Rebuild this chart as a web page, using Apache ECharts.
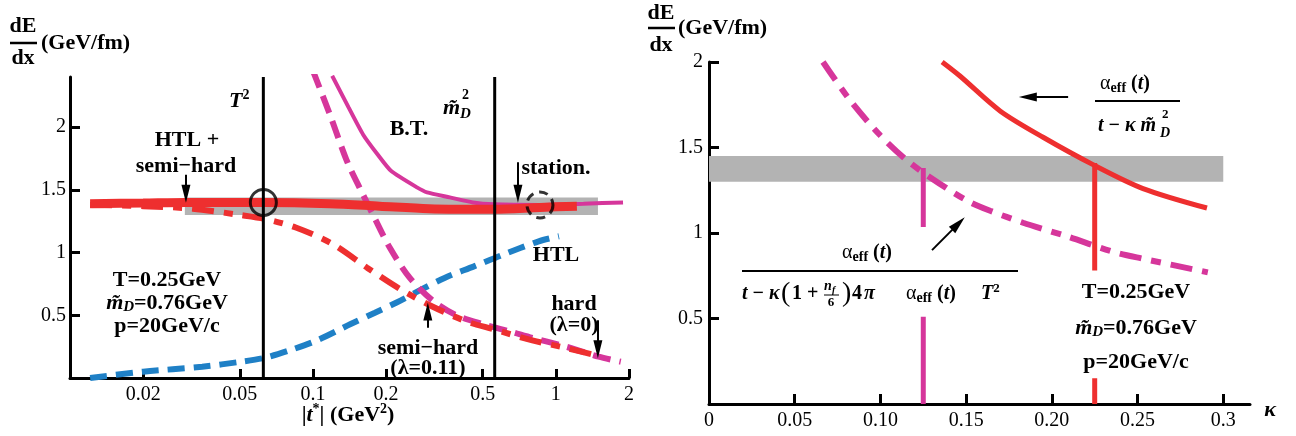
<!DOCTYPE html>
<html>
<head>
<meta charset="utf-8">
<script src="https://cdn.jsdelivr.net/npm/echarts@6.0.0/dist/echarts.min.js"></script>
<style>
  html, body { margin: 0; padding: 0; background: #fff; }
  #chart { width: 1296px; height: 436px; }
</style>
</head>
<body>
<div id="chart"></div>
<script>
  const RED = '#ee2f2f'
  const MAGENTA = '#d6369b'
  const BLUE = '#1f80c6'
  const GREY = '#b3b3b3'
  const SERIF = 'Liberation Serif'

  // ---- left panel: dE/dx against |t*| (log axis) ----
  const tTicks = [0.02, 0.05, 0.1, 0.2, 0.5, 1, 2]
  const dEdxTicks = [0.5, 1, 1.5, 2]
  const htlPlusSemiHard = [[0.0121, 1.39], [0.02, 1.395], [0.03, 1.40], [0.0629, 1.40], [0.1175, 1.39], [0.188, 1.37], [0.30, 1.35], [0.556, 1.345], [0.86, 1.36], [1.22, 1.37]]
  const semiHard = [[0.0121, 1.38], [0.02, 1.37], [0.032, 1.35], [0.05, 1.30], [0.063, 1.27], [0.085, 1.20], [0.12, 1.07], [0.167, 0.88], [0.228, 0.71], [0.31, 0.57], [0.43, 0.45], [0.55, 0.39], [0.8, 0.30], [1.1, 0.24], [1.5, 0.175]]
  const hard = [[0.1, 2.45], [0.1175, 2.10], [0.138, 1.73], [0.16, 1.47], [0.18, 1.27], [0.207, 1.04], [0.25, 0.80], [0.31, 0.62], [0.39, 0.50], [0.5, 0.43], [0.65, 0.37], [0.8, 0.32], [1.1, 0.25], [1.5, 0.17], [1.85, 0.13]]
  const braatenThoma = [[0.12, 2.41], [0.14, 2.16], [0.161, 1.94], [0.185, 1.78], [0.21, 1.65], [0.268, 1.52], [0.295, 1.48], [0.366, 1.44], [0.455, 1.40], [0.556, 1.385], [0.86, 1.38], [1.3, 1.39], [1.89, 1.40]]
  const htl = [[0.0121, 0.0], [0.02, 0.05], [0.035, 0.09], [0.0506, 0.13], [0.063, 0.16], [0.08, 0.22], [0.104, 0.30], [0.143, 0.43], [0.18, 0.52], [0.22, 0.60], [0.276, 0.70], [0.35, 0.80], [0.46, 0.89], [0.6, 0.98], [0.85, 1.09], [1.03, 1.13]]
  const tSquared = 0.0625
  const mD2 = 0.56
  const circles = [[0.0625, 1.40], [0.86, 1.38]]
  const bandT = [0.0297, 1.49]
  const bandLeftY = [1.3, 1.44]

  // ---- right panel: dE/dx against kappa ----
  const kappaTicks = [0, 0.05, 0.1, 0.15, 0.2, 0.25, 0.3]
  const kappaLabels = ['0', '0.05', '0.10', '0.15', '0.20', '0.25', '0.3']
  const dEdxTicksR = [0.5, 1, 1.5, 2]
  const kappaMD = [[0.136, 2.0], [0.1464, 1.918], [0.1698, 1.714], [0.1949, 1.56], [0.224, 1.40], [0.2532, 1.26], [0.2905, 1.146]]
  const kappaT2 = [[0.0665, 2.0], [0.082, 1.78], [0.1, 1.57], [0.1173, 1.41], [0.1389, 1.26], [0.1523, 1.18], [0.164, 1.13], [0.1832, 1.06], [0.2089, 0.98], [0.2357, 0.89], [0.253, 0.85], [0.291, 0.77]]
  const markT2 = [[0.125, 0], [0.125, 0.51], [0.125, '-'], [0.125, 1.035], [0.125, 1.38]]
  const markMD = [[0.225, 0], [0.225, 0.15], [0.225, '-'], [0.225, 0.78], [0.225, 1.41]]
  const bandKappa = [0, 0.3]
  const bandRightY = [1.3, 1.45]

  function makeRich(size) {
    const base = { fontFamily: SERIF, fill: '#000', color: '#000' }
    return {
      b: Object.assign({ fontSize: size, fontWeight: 'bold' }, base),
      r: Object.assign({ fontSize: size, fontWeight: 'normal' }, base),
      i: Object.assign({ fontSize: size, fontWeight: 'bold', fontStyle: 'italic' }, base),
      sub: Object.assign({ fontSize: Math.round(size * 0.68), fontWeight: 'bold', fontStyle: 'italic', padding: [Math.round(size * 0.4), 0, 0, 0] }, base),
      eff: Object.assign({ fontSize: Math.round(size * 0.68), fontWeight: 'bold', padding: [Math.round(size * 0.4), 0, 0, 0] }, base),
      sup: Object.assign({ fontSize: Math.round(size * 0.64), fontWeight: 'bold', padding: [0, 0, Math.round(size * 0.5), 0] }, base)
    }
  }
  const rich22 = makeRich(22)
  const rich20 = makeRich(20)

  function txt(x, y, text, opt) {
    opt = opt || {}
    return {
      type: 'text', x: x, y: y, silent: true,
      style: {
        text: text,
        fill: '#000',
        fontFamily: SERIF,
        fontSize: opt.size || 22,
        fontWeight: opt.weight || 'bold',
        fontStyle: opt.style || 'normal',
        align: opt.align || 'center',
        verticalAlign: 'middle',
        rich: opt.rich
      }
    }
  }
  function hline(x1, x2, y, w) {
    return { type: 'line', silent: true, shape: { x1: x1, y1: y, x2: x2, y2: y }, style: { stroke: '#000', lineWidth: w || 2 } }
  }

  function arrows(list) {
    return {
      silent: true,
      symbol: ['none', 'triangle'],
      symbolSize: [9, 18],
      label: { show: false },
      emphasis: { disabled: true },
      animation: false,
      lineStyle: { color: '#000', width: 2, type: 'solid' },
      data: list.map(a => [{ coord: a[0] }, { coord: a[1] }])
    }
  }

  const chart = echarts.init(document.getElementById('chart'), null, { renderer: 'canvas' })

  const axisCommon = {
    axisLine: { show: true, onZero: false, lineStyle: { color: '#000', width: 3 } },
    splitLine: { show: false },
    minorTick: { show: false }
  }
  const tickFont = { color: '#000', fontFamily: SERIF, fontSize: 20 }

  chart.setOption({
    animation: false,
    backgroundColor: '#fff',
    textStyle: { fontFamily: SERIF },
    grid: [
      { left: 70, top: 77, width: 559, height: 301, outerBoundsMode: 'none' },
      { left: 709, top: 62, width: 541, height: 342, outerBoundsMode: 'none' }
    ],
    xAxis: [
      Object.assign({
        type: 'log', logBase: 10, gridIndex: 0, min: 0.01, max: 2,
        axisTick: { show: true, inside: true, length: 9, customValues: tTicks, lineStyle: { color: '#000', width: 3 } },
        axisLabel: Object.assign({ customValues: tTicks, margin: 7,
          formatter: v => String(Number(Number(v).toPrecision(2))) }, tickFont)
      }, axisCommon),
      Object.assign({
        type: 'value', gridIndex: 1, min: 0, max: 0.3156,
        axisTick: { show: true, inside: true, length: 10, customValues: kappaTicks, lineStyle: { color: '#000', width: 3 } },
        axisLabel: Object.assign({ customValues: kappaTicks, margin: 7,
          formatter: v => kappaLabels[Math.round(v * 20)] }, tickFont)
      }, axisCommon)
    ],
    yAxis: [
      Object.assign({
        type: 'value', gridIndex: 0, min: 0, max: 2.4,
        axisTick: { show: true, inside: true, length: 10, customValues: dEdxTicks, lineStyle: { color: '#000', width: 3 } },
        axisLabel: Object.assign({ customValues: dEdxTicks, margin: 4 }, tickFont)
      }, axisCommon),
      Object.assign({
        type: 'value', gridIndex: 1, min: 0, max: 2,
        axisTick: { show: true, inside: true, length: 10, customValues: dEdxTicksR, lineStyle: { color: '#000', width: 3 } },
        axisLabel: Object.assign({ customValues: dEdxTicksR, margin: 6 }, tickFont)
      }, axisCommon)
    ],
    series: [
      // grey band, left
      {
        type: 'line', xAxisIndex: 0, yAxisIndex: 0, data: [], z: 1,
        markArea: { silent: true, itemStyle: { color: GREY, opacity: 1 },
          data: [[{ xAxis: bandT[0], yAxis: bandLeftY[0] }, { xAxis: bandT[1], yAxis: bandLeftY[1] }]] }
      },
      { name: 'HTL', type: 'line', xAxisIndex: 0, yAxisIndex: 0, data: htl, showSymbol: false, smooth: 0.3, z: 2,
        lineStyle: { color: BLUE, width: 6, type: [17, 9], cap: 'butt' } },
      { name: 'hard', type: 'line', xAxisIndex: 0, yAxisIndex: 0, data: hard, showSymbol: false, smooth: 0.3, z: 3,
        lineStyle: { color: MAGENTA, width: 6, type: [18, 9], cap: 'butt' } },
      { name: 'semi-hard', type: 'line', xAxisIndex: 0, yAxisIndex: 0, data: semiHard, showSymbol: false, smooth: 0.3, z: 3,
        lineStyle: { color: RED, width: 6, type: [22, 10, 9, 10], cap: 'butt' } },
      { name: 'B.T.', type: 'line', xAxisIndex: 0, yAxisIndex: 0, data: braatenThoma, showSymbol: false, smooth: 0.2, z: 3,
        lineStyle: { color: MAGENTA, width: 4 } },
      { name: 'HTL + semi-hard', type: 'line', xAxisIndex: 0, yAxisIndex: 0, data: htlPlusSemiHard, showSymbol: false, smooth: 0.3, z: 4,
        lineStyle: { color: RED, width: 9 } },
      { type: 'line', xAxisIndex: 0, yAxisIndex: 0, data: [[tSquared, 0], [tSquared, 2.4]], showSymbol: false, z: 5,
        lineStyle: { color: '#000', width: 3 },
        markLine: arrows([
          [[0.03, 1.62], [0.03, 1.47]],
          [[0.698, 1.72], [0.698, 1.47]],
          [[0.297, 0.40], [0.297, 0.53]],
          [[1.489, 0.46], [1.489, 0.23]]
        ]) },
      { type: 'line', xAxisIndex: 0, yAxisIndex: 0, data: [[mD2, 0], [mD2, 2.4]], showSymbol: false, z: 5,
        lineStyle: { color: '#000', width: 3 } },
      {
        type: 'scatter', xAxisIndex: 0, yAxisIndex: 0, z: 6, symbol: 'circle', symbolSize: 26,
        data: [
          { value: circles[0], itemStyle: { color: 'rgba(0,0,0,0)', borderColor: '#000', borderWidth: 3 } },
          { value: circles[1], itemStyle: { color: 'rgba(0,0,0,0)', borderColor: '#000', borderWidth: 3, borderType: [9, 6] } }
        ]
      },

      // grey band, right
      {
        type: 'line', xAxisIndex: 1, yAxisIndex: 1, data: [], z: 1,
        markArea: { silent: true, itemStyle: { color: GREY, opacity: 1 },
          data: [[{ xAxis: bandKappa[0], yAxis: bandRightY[0] }, { xAxis: bandKappa[1], yAxis: bandRightY[1] }]] }
      },
      { type: 'line', xAxisIndex: 1, yAxisIndex: 1, data: kappaT2, showSymbol: false, smooth: 0.3, z: 3,
        lineStyle: { color: MAGENTA, width: 6, type: [22, 10, 10, 10], cap: 'butt' } },
      { type: 'line', xAxisIndex: 1, yAxisIndex: 1, data: kappaMD, showSymbol: false, smooth: 0.3, z: 3,
        lineStyle: { color: RED, width: 5 } },
      { type: 'line', xAxisIndex: 1, yAxisIndex: 1, data: markT2, showSymbol: false, connectNulls: false, z: 4,
        lineStyle: { color: MAGENTA, width: 5 } },
      { type: 'line', xAxisIndex: 1, yAxisIndex: 1, data: markMD, showSymbol: false, connectNulls: false, z: 4,
        lineStyle: { color: RED, width: 5 },
        markLine: arrows([
          [[0.2095, 1.795], [0.186, 1.795]],
          [[0.1301, 0.90], [0.1455, 1.055]]
        ]) }
    ],
    graphic: [
      // left axis title
      txt(23, 26, 'dE'), hline(10, 37, 43, 2.5), txt(23, 58, 'dx'),
      txt(41, 43, '(GeV/fm)', { align: 'left' }),
      txt(229, 101, '{i|T}{sup|2}', { align: 'left', rich: rich22 }),
      txt(443, 108, 'm\u0303', { align: 'left', style: 'italic' }),
      txt(462, 95, '2', { align: 'left', size: 14 }),
      txt(460, 114, 'D', { align: 'left', size: 15, style: 'italic' }),
      txt(409, 129, 'B.T.'),
      txt(187, 140, 'HTL +'),
      txt(186, 166, 'semi\u2212hard'),
      txt(556, 168, 'station.'),
      txt(556, 255, 'HTL'),
      txt(428, 348, 'semi\u2212hard'),
      txt(428, 368, '(\u03bb=0.11)'),
      txt(574, 304, 'hard'),
      txt(574, 325, '(\u03bb=0)'),
      txt(167, 280, 'T=0.25GeV'),
      txt(167, 303, '{i|m\u0303}{sub|D}{b|=0.76GeV}', { rich: rich22 }),
      txt(167, 326, 'p=20GeV/c'),
      txt(348, 415, '{b||}{i|t}{sup|*}{b|| (GeV}{sup|2}{b|)}', { rich: rich22 }),

      // right axis title
      txt(661, 13, 'dE'), hline(648, 675, 28, 2.5), txt(661, 45, 'dx'),
      txt(678, 28, '(GeV/fm)', { align: 'left' }),
      txt(1270, 410, '\u03ba', { style: 'italic' }),

      // formula: alpha / (t - kappa mD^2)
      txt(1125, 84, '{r|\u03b1}{eff|eff}{b| (}{i|t}{b|)}', { rich: rich20 }),
      hline(1095, 1180, 101, 2),
      txt(1098, 126, '{i|t}{b| \u2212 }{i|\u03ba m\u0303}', { align: 'left', rich: rich20 }),
      txt(1162, 115, '2', { align: 'left', size: 13 }),
      txt(1160, 133, 'D', { align: 'left', size: 14, style: 'italic' }),

      // formula: alpha / (t - kappa (1 + nf/6) 4 pi alpha T^2)
      txt(867, 253, '{r|\u03b1}{eff|eff}{b| (}{i|t}{b|)}', { rich: rich20 }),
      hline(742, 1018, 271, 2),
      txt(742, 294, '{i|t}{b| \u2212 }{i|\u03ba}', { align: 'left', rich: rich20 }),
      txt(781, 294, '(', { align: 'left', size: 28, weight: 'normal' }),
      txt(792, 294, '1 +', { align: 'left', size: 20 }),
      txt(824, 286, 'n', { align: 'left', size: 14, style: 'italic' }),
      txt(832, 290, 'f', { align: 'left', size: 10, style: 'italic' }),
      hline(824, 839, 295, 1),
      txt(831, 303, '6', { size: 13 }),
      txt(842, 294, ')', { align: 'left', size: 28, weight: 'normal' }),
      txt(852, 294, '4', { align: 'left', size: 20 }),
      txt(864, 294, '\u03c0', { align: 'left', size: 20, style: 'italic' }),
      txt(906, 294, '{r|\u03b1}{eff|eff}{b| (}{i|t}{b|)}', { align: 'left', rich: rich20 }),
      txt(981, 294, '{i|T}{sup|2}', { align: 'left', rich: rich20 }),

      // parameters, right
      txt(1136, 292, 'T=0.25GeV'),
      txt(1136, 328, '{i|m\u0303}{sub|D}{b|=0.76GeV}', { rich: rich22 }),
      txt(1136, 362, 'p=20GeV/c')
    ]
  })
</script>
</body>
</html>
